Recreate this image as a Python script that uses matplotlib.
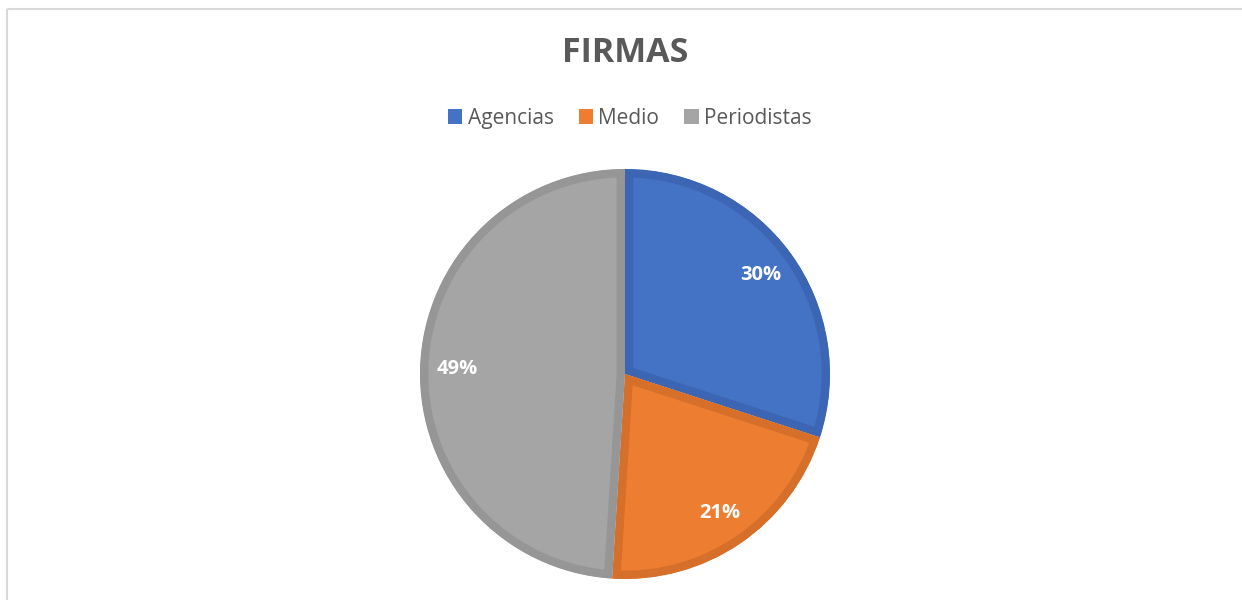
import matplotlib.pyplot as plt
from matplotlib.patches import Patch

labels = ["Agencias", "Medio", "Periodistas"]
values = [30, 21, 49]
colors = ["#4472C4", "#ED7D31", "#A5A5A5"]
edge_colors = ["#3C66B4", "#D66F29", "#969696"]

plt.rcParams["font.family"] = ["Open Sans", "DejaVu Sans"]

fig = plt.figure(figsize=(12.42, 6), dpi=100)
ax = fig.add_axes([0, 0, 1, 1])

wedges, _, autotexts = ax.pie(
    values, colors=colors, startangle=90, counterclock=False,
    center=(625, 226), radius=205, autopct="%1.0f%%", pctdistance=0.82,
    textprops=dict(color="white", fontsize=14.5, fontweight="bold"),
    frame=True,
)
ax.set_xlim(0, 1242)
ax.set_ylim(0, 600)
ax.axis("off")
# darker border drawn inside each slice only
for w, ec in zip(wedges, edge_colors):
    w.set_edgecolor(ec)
    w.set_linewidth(12)
    w.set_clip_on(True)
    w.set_clip_path(w)

# chart border (top and left only visible)
ax.plot([7, 7], [0, 591], color="#D9D9D9", lw=1.5, solid_capstyle="butt")
ax.plot([7, 1242], [591, 591], color="#D9D9D9", lw=1.5, solid_capstyle="butt")

fig.text(0.503, 0.912, "FIRMAS", ha="center", va="center", fontsize=24.5,
         fontweight="bold", color="#595959")

handles = [Patch(facecolor=c, edgecolor="none") for c in colors]
fig.legend(handles, labels, loc="center", bbox_to_anchor=(0.507, 0.803), ncol=3,
           frameon=False, fontsize=15, labelcolor="#595959", handlelength=0.7,
           handleheight=0.7, handletextpad=0.25, columnspacing=1.2)

fig.savefig("out.png", dpi=100)
